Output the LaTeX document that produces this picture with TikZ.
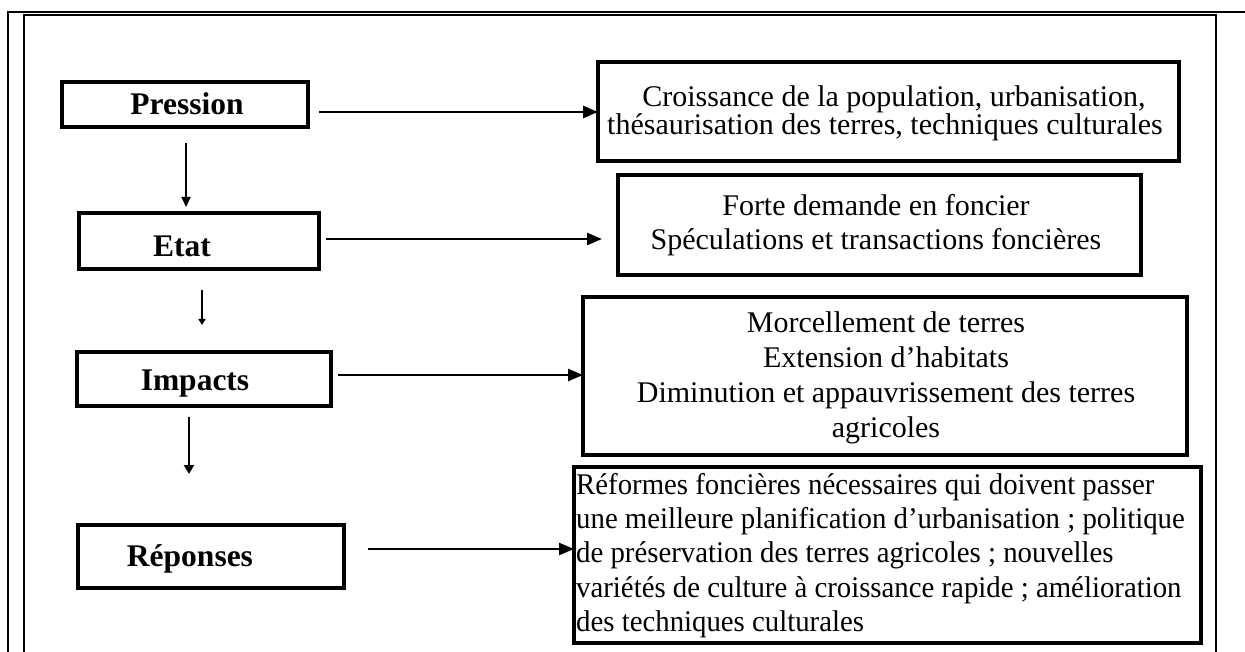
\documentclass[tikz,border=0pt]{standalone}
\usepackage{fontspec}
\setmainfont{Liberation Serif}
\newfontfamily\condserif[FakeStretch=0.96]{Liberation Serif}
\usetikzlibrary{arrows.meta}
\begin{document}
\begin{tikzpicture}[x=1pt,y=-1pt,
  frameline/.style={line width=2.5pt},
  boxnode/.style={draw, line width=3.2pt, inner sep=0pt, outer sep=0pt, anchor=north west},
  keytxt/.style={inner sep=0pt, anchor=base, font=\bfseries\fontsize{31.5}{34}\selectfont},
  desctxt/.style={inner sep=0pt, anchor=north, align=center, font=\fontsize{30}{34}\selectfont},
  hconn/.style={line width=2.5pt, -{Triangle[length=15pt,width=12pt]}},
  vconnA/.style={line width=1.8pt, -{Triangle[length=10pt,width=9pt]}},
  vconnB/.style={line width=1.6pt, -{Triangle[length=6pt,width=7pt]}},
  vconnC/.style={line width=2.8pt, -{Triangle[length=9pt,width=10pt]}}
]
\useasboundingbox (0,0) rectangle (1245,652);
% frame
\draw[frameline] (8,652) -- (8,12) -- (1245,12);
\draw[frameline] (24,652) -- (24,15) -- (1216,15) -- (1216,652);

% left boxes
\node[boxnode, minimum width=246pt, minimum height=45pt] (pression) at (62,82) {};
\node[keytxt] (pressionT) at (187,115) {Pression};
\node[boxnode, minimum width=240pt, minimum height=56pt] (etat) at (79,213) {};
\node[keytxt] (etatT) at (182,257) {Etat};
\node[boxnode, minimum width=254pt, minimum height=54pt] (impacts) at (77,352) {};
\node[keytxt] (impactsT) at (195,390) {Impacts};
\node[boxnode, minimum width=266pt, minimum height=63pt] (reponses) at (78,525) {};
\node[keytxt] (reponsesT) at (190,566) {Réponses};

% right boxes
\node[boxnode, minimum width=581pt, minimum height=99pt] (croiss) at (598,62) {};
\node[desctxt, font=\fontsize{30}{27}\selectfont] (croissT) at (885,85) {\hspace*{18pt}Croissance de la population, urbanisation,\\thésaurisation des terres, techniques culturales};
\node[boxnode, minimum width=523pt, minimum height=100pt] (forte) at (618,175) {};
\node[desctxt] (forteT) at (876,194) {Forte demande en foncier\\Spéculations et transactions foncières};
\node[boxnode, minimum width=604pt, minimum height=158pt] (morc) at (583,297) {};
\node[desctxt, font=\fontsize{30}{35.2}\selectfont] (morcT) at (886,311) {Morcellement de terres\\Extension d’habitats\\Diminution et appauvrissement des terres\\agricoles};
\node[boxnode, minimum width=627pt, minimum height=176pt] (reform) at (574,467) {};
\node[inner sep=0pt, anchor=north west, align=left, font=\condserif\fontsize{30}{34.3}\selectfont] (reformT) at (576,473) {Réformes foncières nécessaires qui doivent passer\\une meilleure planification d’urbanisation ; politique\\de préservation des terres agricoles ; nouvelles\\variétés de culture à croissance rapide ; amélioration\\des techniques culturales};

% connectors
\coordinate (a1s) at (319,112);
\draw[hconn] (a1s) -- (a1s -| croiss.west);
\coordinate (a2s) at (326,239);
\coordinate (a2e) at (602,239);
\draw[hconn] (a2s) -- (a2e);
\coordinate (a3s) at (338,375);
\draw[hconn] (a3s) -- (a3s -| morc.west);
\coordinate (a4s) at (368,549);
\draw[hconn] (a4s) -- (a4s -| reform.west);

\coordinate (v1s) at (186,143);
\coordinate (v1e) at (186,207);
\draw[vconnA] (v1s) -- (v1e);
\coordinate (v2s) at (202,290);
\coordinate (v2e) at (202,325);
\draw[vconnB] (v2s) -- (v2e);
\coordinate (v3s) at (189,417);
\coordinate (v3e) at (189,474);
\draw[vconnC] (v3s) -- (v3e);
\end{tikzpicture}
\end{document}
